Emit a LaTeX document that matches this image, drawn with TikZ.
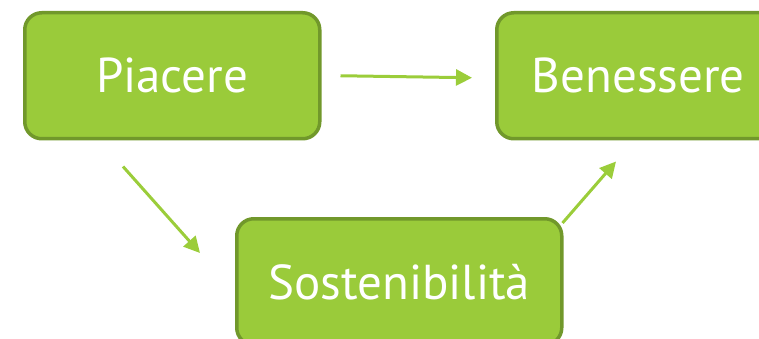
\documentclass[tikz,border=0pt]{standalone}
\usepackage{fontspec}
\setmainfont{PT Sans}
\usetikzlibrary{arrows.meta,calc}
\definecolor{boxfill}{RGB}{154,203,58}
\definecolor{boxline}{RGB}{113,152,43}
\definecolor{arrowcol}{RGB}{155,205,58}
\tikzset{
  greenbox/.style={draw=boxline, fill=boxfill, line width=3.5pt, rounded corners=17pt,
    text=white, font=\fontsize{49}{50}\selectfont, inner sep=0pt, anchor=north west},
  conn/.style={draw=arrowcol, line width=3pt,
    -{Triangle[length=16pt,width=16pt]}}
}
\begin{document}
\begin{tikzpicture}[x=1pt,y=-1pt]
\useasboundingbox (0,0) rectangle (759,339);
\clip (0,0) rectangle (759,339);
\node[greenbox, minimum width=295pt, minimum height=126pt] (P) at (23,11) {\raisebox{-2pt}{Piacere}};
\node[greenbox, minimum width=283pt, minimum height=126pt] (B) at (495,11) {\raisebox{-2pt}{Benessere}};
\node[greenbox, minimum width=325pt, minimum height=126pt] (S) at (235,217) {\raisebox{-1pt}{Sostenibilità}};
\draw[conn] ($(P.east)+(19,0)$) -- ($(B.west)+(-23,2)$);
\draw[conn] ($(P.south west)+(100,26)$) -- ($(S.north west)+(-35,36)$);
\draw[conn] ($(S.north east)+(-1,6)$) -- ($(B.south west)+(121,21)$);
\end{tikzpicture}
\end{document}
